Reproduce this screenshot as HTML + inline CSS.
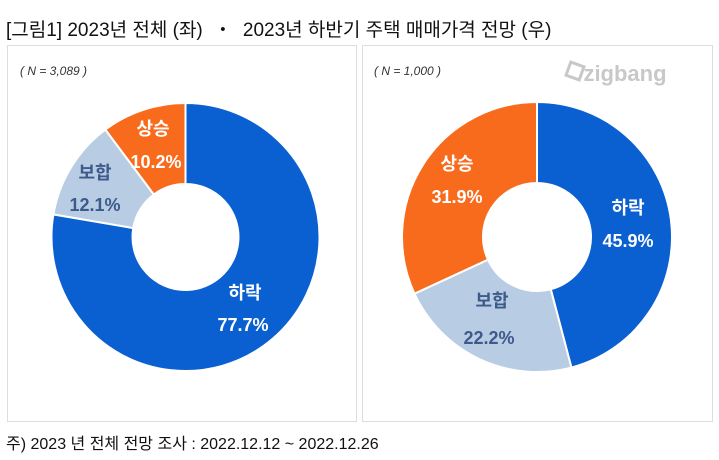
<!DOCTYPE html>
<html><head><meta charset="utf-8"><style>
body{margin:0;width:719px;height:460px;background:#fff;font-family:"Liberation Sans","Noto Sans CJK KR",sans-serif;overflow:hidden;position:relative}
.t{position:absolute;left:6px;top:15px;font-size:19px;color:#111;white-space:nowrap}
.f{position:absolute;left:6px;top:430px;font-size:16px;color:#111;white-space:nowrap}
.p{position:absolute;top:45px;height:377px;border:1.5px solid #ddd;box-sizing:border-box}
.n{position:absolute;font-size:12px;font-style:italic;color:#333}
</style></head><body>
<div class="t">[그림1] 2023년 전체 (좌) &nbsp;・&nbsp; 2023년 하반기 주택 매매가격 전망 (우)</div>
<div class="p" style="left:7px;width:350px"></div>
<div class="p" style="left:362px;width:351px"></div>
<div class="n" style="left:20px;top:64px">( N = 3,089 )</div>
<div class="n" style="left:374px;top:64px">( N = 1,000 )</div>
<svg width="719" height="460" style="position:absolute;left:0;top:0" id="s" font-family="Liberation Sans, Noto Sans CJK KR, sans-serif" font-weight="bold" text-anchor="middle">
<g id="g"></g>
<text x="625" y="81" font-size="22" fill="#c8c8c8" font-weight="bold">zigbang</text>
<rect x="568" y="64" width="14" height="14" fill="none" stroke="#c8c8c8" stroke-width="3" transform="rotate(20 575 71)"/>
<g font-size="18">
<text x="153" y="135" fill="#fff">상승</text><text x="156" y="168" fill="#fff">10.2%</text>
<text x="95" y="179" fill="#3d5a8a">보합</text><text x="95" y="211" fill="#3d5a8a">12.1%</text>
<text x="245" y="299" fill="#fff">하락</text><text x="243" y="331" fill="#fff">77.7%</text>
<text x="457" y="170" fill="#fff">상승</text><text x="457" y="203" fill="#fff">31.9%</text>
<text x="628" y="214" fill="#fff">하락</text><text x="628" y="247" fill="#fff">45.9%</text>
<text x="492" y="307" fill="#3d5a8a">보합</text><text x="489" y="344" fill="#3d5a8a">22.2%</text>
</g>
</svg>
<div class="f">주) 2023 년 전체 전망 조사 : 2022.12.12 ~ 2022.12.26</div>
<script>
function donut(cx,cy,R,r,data){var a=0,h='';data.forEach(function(d){var a0=a/100*2*Math.PI,a1=(a+d[0])/100*2*Math.PI;a+=d[0];
function P(rr,t){return (cx+rr*Math.sin(t)).toFixed(2)+' '+(cy-rr*Math.cos(t)).toFixed(2)}
var l=(a1-a0)>Math.PI?1:0;
h+='<path d="M'+P(R,a0)+' A'+R+' '+R+' 0 '+l+' 1 '+P(R,a1)+' L'+P(r,a1)+' A'+r+' '+r+' 0 '+l+' 0 '+P(r,a0)+' Z" fill="'+d[1]+'" stroke="#fff" stroke-width="2"/>';});return h;}
var B='#0a5fd1',L='#b8cce4',O='#f86b1d';
document.getElementById('g').innerHTML=donut(185.5,237,134,53,[[77.7,B],[12.1,L],[10.2,O]])+donut(537,237,135,54,[[45.9,B],[22.2,L],[31.9,O]]);
</script>
</body></html>
